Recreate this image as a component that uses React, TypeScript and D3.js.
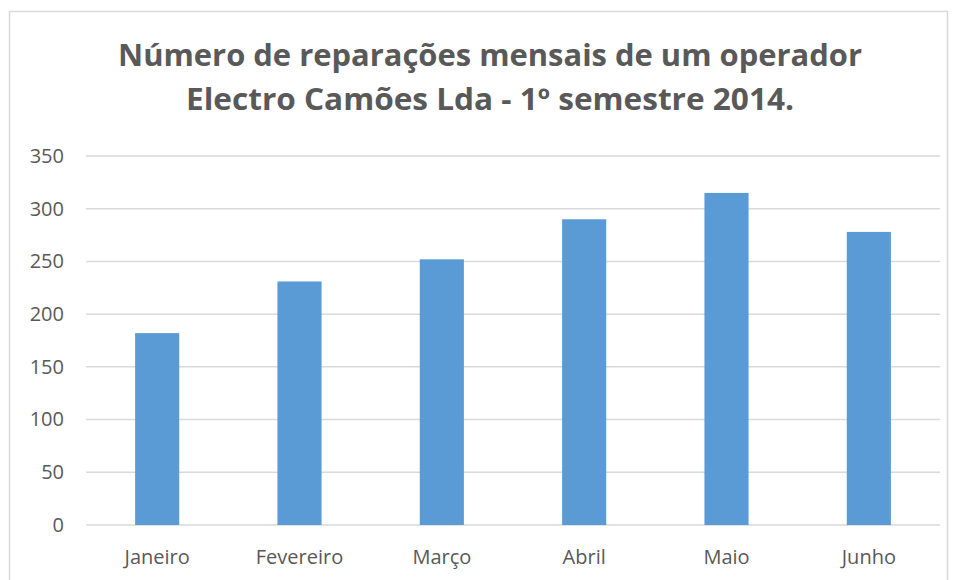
import React, { useEffect, useRef } from "react";
import * as d3 from "d3";

const width = 955;
const height = 580;
const margin = { top: 156, right: 15, bottom: 55, left: 86 };

const months = ["Janeiro", "Fevereiro", "Março", "Abril", "Maio", "Junho"];
const repairs = [182, 231, 252, 290, 315, 278];
const yTicks = [0, 50, 100, 150, 200, 250, 300, 350];
const titleLines = [
  "Número de reparações mensais de um operador",
  "Electro Camões Lda - 1º semestre 2014.",
];

const fontFamily = "'Open Sans', 'Noto Sans', sans-serif";

export default function App() {
  const xAxisRef = useRef<SVGGElement>(null);
  const yAxisRef = useRef<SVGGElement>(null);

  const x = d3
    .scaleBand()
    .domain(months)
    .range([margin.left, width - margin.right])
    .paddingInner(0.69)
    .paddingOuter(0.345);

  const y = d3
    .scaleLinear()
    .domain([0, 350])
    .range([height - margin.bottom, margin.top]);

  useEffect(() => {
    const xAxis = d3.axisBottom(x).tickSize(0).tickPadding(25);
    const gx = d3.select(xAxisRef.current);
    gx.call(xAxis);
    gx.select(".domain").remove();
    gx.selectAll("text")
      .attr("font-family", fontFamily)
      .attr("font-size", 20)
      .attr("fill", "#595959");

    const yAxis = d3.axisLeft(y).tickValues(yTicks).tickSize(0).tickPadding(22);
    const gy = d3.select(yAxisRef.current);
    gy.call(yAxis);
    gy.select(".domain").remove();
    gy.selectAll("text")
      .attr("font-family", fontFamily)
      .attr("font-size", 20)
      .attr("fill", "#595959");
  }, []);

  return (
    <svg width={width} height={height} style={{ position: "absolute", left: 0, top: 0 }}>
      <rect x={0} y={0} width={width} height={height} fill="#fff" />
      <rect x={9.5} y={11.5} width={938} height={600} fill="#fff" stroke="#d9d9d9" strokeWidth={1.5} />
      {titleLines.map((t, i) => (
        <text
          key={i}
          x={490}
          y={66 + i * 44}
          textAnchor="middle"
          fontFamily={fontFamily}
          fontWeight="bold"
          fontSize={30}
          fill="#595959"
          textLength={i === 0 ? 744 : 608}
          lengthAdjust="spacingAndGlyphs"
        >
          {t}
        </text>
      ))}
      {yTicks.map((t) => (
        <line
          key={t}
          x1={margin.left}
          x2={width - margin.right}
          y1={y(t)}
          y2={y(t)}
          stroke="#d9d9d9"
          strokeWidth={1.5}
        />
      ))}
      {months.map((m, i) => (
        <rect
          key={m}
          x={x(m)}
          y={y(repairs[i])}
          width={x.bandwidth()}
          height={y(0) - y(repairs[i])}
          fill="#5b9bd5"
        />
      ))}
      <g ref={xAxisRef} transform={`translate(0, ${height - margin.bottom})`} />
      <g ref={yAxisRef} transform={`translate(${margin.left}, 0)`} />
    </svg>
  );
}
